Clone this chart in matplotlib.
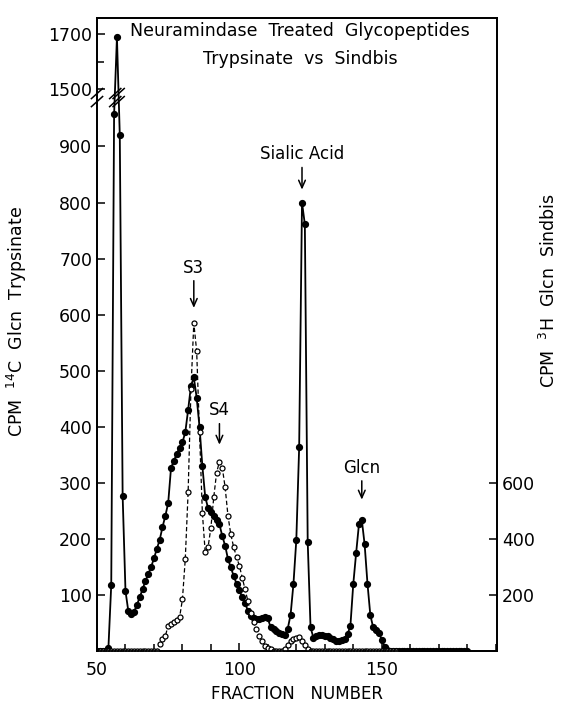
import matplotlib
matplotlib.use("Agg")
import matplotlib.pyplot as plt
import numpy as np

# 14C Glcn trypsinate (left axis), one value per fraction 50..180
trypsinate_fraction = np.arange(50, 181)
trypsinate_cpm = [
    0, 0, 0, 0, 5, 118, 957, 1690, 920, 277,            # 50-59
    107, 71, 66, 70, 82, 96, 110, 125, 137, 150,        # 60-69
    165, 182, 198, 221, 241, 264, 327, 339, 352, 362,   # 70-79
    372, 390, 430, 473, 488, 452, 400, 330, 275, 255,   # 80-89
    248, 240, 234, 226, 205, 188, 164, 149, 134, 120,   # 90-99
    108, 96, 85, 72, 62, 58, 57, 57, 58, 60,            # 100-109
    58, 42, 40, 35, 32, 30, 29, 40, 65, 120,            # 110-119
    198, 363, 800, 761, 195, 42, 24, 27, 28, 28,        # 120-129
    27, 26, 24, 21, 18, 18, 20, 22, 30, 45,             # 130-139
    119, 174, 226, 234, 190, 120, 64, 42, 38, 33,       # 140-149
    20, 8, 2, 0, 0, 0, 0, 0, 0, 0,                      # 150-159
    0, 0, 0, 0, 0, 0, 0, 0, 0, 0,                       # 160-169
    0, 0, 0, 0, 0, 0, 0, 0, 0, 0,                       # 170-179
    0,                                                  # 180
]

# 3H Glcn sindbis (right axis), fractions 51..155
sindbis_fraction = np.arange(51, 156)
sindbis_cpm = [
    0, 0, 0, 0, 0, 0, 0, 0, 0,                              # 51-59
    0, 0, 0, 0, 0, 0, 0, 0, 0, 0,                           # 60-69
    0, 0, 24, 42, 54, 90, 98, 102, 112, 120,                # 70-79
    184, 328, 566, 934, 1170, 1070, 780, 494, 352, 370,     # 80-89
    440, 548, 636, 676, 654, 584, 482, 416, 370, 336,       # 90-99
    304, 262, 220, 178, 136, 102, 78, 54, 36, 18,           # 100-109
    10, 6, 0, 0, 0, 0, 6, 22, 36, 44,                       # 110-119
    48, 50, 36, 22, 6, 0, 0, 0, 0, 0,                       # 120-129
    0, 0, 0, 0, 0, 0, 0, 0, 0, 0,                           # 130-139
    0, 0, 0, 0, 0, 0, 0, 0, 0, 0,                           # 140-149
    0, 0, 0, 0, 0, 0,                                       # 150-155
]

left_ticks = [100, 200, 300, 400, 500, 600, 700, 800, 900, 1500, 1700]
right_ticks = [200, 400, 600]

# broken y axis: 980..1470 squeezed to nothing, top part at half scale
BRK_LO, BRK_HI, GAP, SQUASH = 980.0, 1470.0, 7.0, 0.49


def fwd(y):
    y = np.asarray(y, dtype=float)
    mid = BRK_LO + (y - BRK_LO) * GAP / (BRK_HI - BRK_LO)
    top = BRK_LO + GAP + (y - BRK_HI) * SQUASH
    return np.where(y <= BRK_LO, y, np.where(y >= BRK_HI, top, mid))


def inv(u):
    u = np.asarray(u, dtype=float)
    mid = BRK_LO + (u - BRK_LO) * (BRK_HI - BRK_LO) / GAP
    top = BRK_HI + (u - BRK_LO - GAP) / SQUASH
    return np.where(u <= BRK_LO, u, np.where(u >= BRK_LO + GAP, top, mid))


plt.rcParams["font.family"] = "DejaVu Sans"
fig = plt.figure(figsize=(5.65, 7.06), dpi=100)
ax = fig.add_axes([0.1717, 0.0779, 0.708, 0.8966])
ax.set_yscale("function", functions=(fwd, inv))
ax.set_xlim(50, 190.5)
ax.set_ylim(0, 1760)

ax.plot(trypsinate_fraction, trypsinate_cpm, color="black", lw=1.3,
        marker="o", markersize=4.2, zorder=3)

ax2 = ax.twinx()
ax2.set_yscale("function", functions=(lambda v: fwd(np.asarray(v) / 2),
                                      lambda u: 2 * inv(u)))
ax2.set_ylim(0, 3520)
ax2.plot(sindbis_fraction, sindbis_cpm, color="black", lw=0.9,
         linestyle=(0, (3.5, 2)), marker="o", markersize=3.6,
         markerfacecolor="white", markeredgecolor="black",
         markeredgewidth=0.9, zorder=2)

# ticks
ax.set_xticks([50, 100, 150])
ax.set_xticks(np.arange(60, 191, 10), minor=True)
ax.set_yticks(left_ticks)
ax.set_yticklabels([str(t) for t in left_ticks])
ax.set_yticks([1600], minor=True)
ax.tick_params(axis="both", which="both", direction="in", labelsize=12.5,
               width=1.1)
ax.tick_params(axis="both", which="major", length=6)
ax.tick_params(axis="both", which="minor", length=5)
ax.tick_params(axis="x", pad=7)
ax2.set_yticks(right_ticks)
ax2.set_yticklabels([str(t) for t in right_ticks])
ax2.tick_params(axis="y", direction="in", length=6, width=1.1,
                labelsize=12.5)
ax2.yaxis.set_minor_locator(matplotlib.ticker.NullLocator())
for a in (ax, ax2):
    for s in a.spines.values():
        s.set_linewidth(1.3)

ax.set_xlabel("FRACTION   NUMBER", fontsize=12)
ax.xaxis.set_label_coords(0.5, -0.054)
ax.set_ylabel(r"CPM  $^{14}$C  Glcn  Trypsinate", fontsize=12.5)
ax.yaxis.set_label_coords(-0.17, 0.52)
ax2.set_ylabel(r"CPM  $^{3}$H  Glcn  Sindbis", fontsize=12.5)
ax2.yaxis.set_label_coords(1.105, 0.57)

ax.text(0.507, 0.98, "Neuramindase  Treated  Glycopeptides", fontsize=12.5,
        ha="center", va="center", transform=ax.transAxes)
ax.text(0.507, 0.936, "Trypsinate  vs  Sindbis", fontsize=12.5,
        ha="center", va="center", transform=ax.transAxes)

# peak labels
tr = np.array(trypsinate_cpm)
sb = np.array(sindbis_cpm) / 2.0
arrow = dict(arrowstyle="->,head_length=0.45,head_width=0.2", lw=1.1,
             color="black", shrinkA=1, shrinkB=0)


def label_peak(text, f, v, tip, txt):
    ax.annotate(text, xy=(f, v + tip), xytext=(f, v + txt), fontsize=12,
                ha="center", va="center", arrowprops=arrow)


i = np.argmax(sb)
label_peak("S3", sindbis_fraction[i], sb[i], 27, 99)
m = (sindbis_fraction > 88) & (sindbis_fraction < 100)
i = np.argmax(np.where(m, sb, 0))
label_peak("S4", sindbis_fraction[i], sb[i], 30, 91)
m = (trypsinate_fraction > 110) & (trypsinate_fraction < 130)
i = np.argmax(np.where(m, tr, 0))
label_peak("Sialic Acid", trypsinate_fraction[i], tr[i], 23, 86)
m = trypsinate_fraction > 135
i = np.argmax(np.where(m, tr, 0))
label_peak("Glcn", trypsinate_fraction[i], tr[i], 36, 93)

# break marks on the left spine and on the first peak
to_ax = ax.transAxes.inverted()
ylo = to_ax.transform(ax.transData.transform((50, BRK_LO)))[1]
yhi = to_ax.transform(ax.transData.transform((50, BRK_HI + 15)))[1]
ipk = int(np.argmax(tr))
xs = [0.0]
for f in (trypsinate_fraction[ipk] - 0.6, trypsinate_fraction[ipk] + 0.6):
    xs.append(to_ax.transform(ax.transData.transform((f, 0)))[0])
for x0 in xs:
    for y0 in (ylo, yhi):
        ax.plot([x0 - 0.014, x0 + 0.014], [y0 - 0.008, y0 + 0.008],
                color="black", lw=1.1, transform=ax.transAxes,
                clip_on=False, zorder=5)

fig.savefig("out.png", dpi=100)
